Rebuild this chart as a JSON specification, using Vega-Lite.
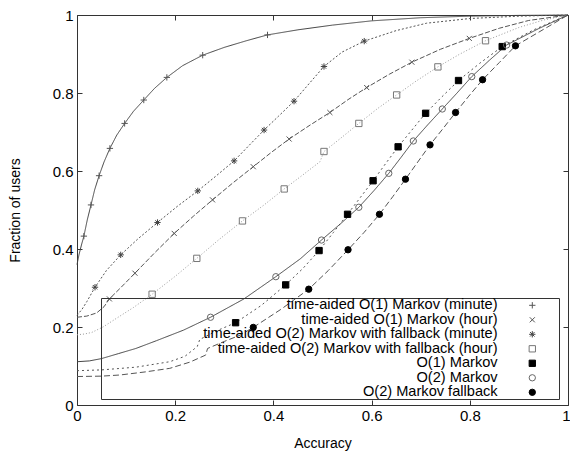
{
 "$schema": "https://vega.github.io/schema/vega-lite/v6.json",
 "width": 491, "height": 390,
 "autosize": {"type": "none"},
 "padding": {"left": 77, "top": 15, "right": 2, "bottom": 46},
 "background": "white",
 "config": {
  "view": {"stroke": "#333", "strokeWidth": 1},
  "font": "Liberation Sans",
  "axis": {"grid": false, "domain": false, "tickColor": "#333", "labelColor": "black", "titleColor": "black", "titleFontWeight": "normal", "labelFont": "Liberation Sans", "titleFont": "Liberation Sans", "labelFontSize": 15, "titleFontSize": 14, "labelFlush": false, "labelBound": false, "labelOverlap": false}
 },
 "datasets": {
  "curves": [
   {"series":"time-aided O(1) Markov (minute)","accuracy":0,"fraction":0.36},
   {"series":"time-aided O(1) Markov (minute)","accuracy":0.004,"fraction":0.385},
   {"series":"time-aided O(1) Markov (minute)","accuracy":0.009,"fraction":0.41},
   {"series":"time-aided O(1) Markov (minute)","accuracy":0.014,"fraction":0.433},
   {"series":"time-aided O(1) Markov (minute)","accuracy":0.021,"fraction":0.475},
   {"series":"time-aided O(1) Markov (minute)","accuracy":0.0285,"fraction":0.513},
   {"series":"time-aided O(1) Markov (minute)","accuracy":0.036,"fraction":0.552},
   {"series":"time-aided O(1) Markov (minute)","accuracy":0.045,"fraction":0.588},
   {"series":"time-aided O(1) Markov (minute)","accuracy":0.055,"fraction":0.623},
   {"series":"time-aided O(1) Markov (minute)","accuracy":0.067,"fraction":0.658},
   {"series":"time-aided O(1) Markov (minute)","accuracy":0.081,"fraction":0.692},
   {"series":"time-aided O(1) Markov (minute)","accuracy":0.097,"fraction":0.722},
   {"series":"time-aided O(1) Markov (minute)","accuracy":0.115,"fraction":0.753},
   {"series":"time-aided O(1) Markov (minute)","accuracy":0.136,"fraction":0.782},
   {"series":"time-aided O(1) Markov (minute)","accuracy":0.158,"fraction":0.812},
   {"series":"time-aided O(1) Markov (minute)","accuracy":0.183,"fraction":0.84},
   {"series":"time-aided O(1) Markov (minute)","accuracy":0.215,"fraction":0.87},
   {"series":"time-aided O(1) Markov (minute)","accuracy":0.256,"fraction":0.897},
   {"series":"time-aided O(1) Markov (minute)","accuracy":0.3,"fraction":0.917},
   {"series":"time-aided O(1) Markov (minute)","accuracy":0.345,"fraction":0.934},
   {"series":"time-aided O(1) Markov (minute)","accuracy":0.388,"fraction":0.949},
   {"series":"time-aided O(1) Markov (minute)","accuracy":0.45,"fraction":0.962},
   {"series":"time-aided O(1) Markov (minute)","accuracy":0.52,"fraction":0.974},
   {"series":"time-aided O(1) Markov (minute)","accuracy":0.6,"fraction":0.985},
   {"series":"time-aided O(1) Markov (minute)","accuracy":0.7,"fraction":0.993},
   {"series":"time-aided O(1) Markov (minute)","accuracy":0.8,"fraction":0.997},
   {"series":"time-aided O(1) Markov (minute)","accuracy":0.9,"fraction":0.999},
   {"series":"time-aided O(1) Markov (minute)","accuracy":1,"fraction":1},

   {"series":"time-aided O(1) Markov (hour)","accuracy":0,"fraction":0.225},
   {"series":"time-aided O(1) Markov (hour)","accuracy":0.02,"fraction":0.228},
   {"series":"time-aided O(1) Markov (hour)","accuracy":0.04,"fraction":0.236},
   {"series":"time-aided O(1) Markov (hour)","accuracy":0.055,"fraction":0.252},
   {"series":"time-aided O(1) Markov (hour)","accuracy":0.066,"fraction":0.272},
   {"series":"time-aided O(1) Markov (hour)","accuracy":0.09,"fraction":0.302},
   {"series":"time-aided O(1) Markov (hour)","accuracy":0.118,"fraction":0.338},
   {"series":"time-aided O(1) Markov (hour)","accuracy":0.158,"fraction":0.39},
   {"series":"time-aided O(1) Markov (hour)","accuracy":0.198,"fraction":0.44},
   {"series":"time-aided O(1) Markov (hour)","accuracy":0.237,"fraction":0.484},
   {"series":"time-aided O(1) Markov (hour)","accuracy":0.276,"fraction":0.526},
   {"series":"time-aided O(1) Markov (hour)","accuracy":0.318,"fraction":0.57},
   {"series":"time-aided O(1) Markov (hour)","accuracy":0.359,"fraction":0.611},
   {"series":"time-aided O(1) Markov (hour)","accuracy":0.396,"fraction":0.648},
   {"series":"time-aided O(1) Markov (hour)","accuracy":0.432,"fraction":0.682},
   {"series":"time-aided O(1) Markov (hour)","accuracy":0.475,"fraction":0.718},
   {"series":"time-aided O(1) Markov (hour)","accuracy":0.515,"fraction":0.75},
   {"series":"time-aided O(1) Markov (hour)","accuracy":0.552,"fraction":0.783},
   {"series":"time-aided O(1) Markov (hour)","accuracy":0.59,"fraction":0.814},
   {"series":"time-aided O(1) Markov (hour)","accuracy":0.636,"fraction":0.848},
   {"series":"time-aided O(1) Markov (hour)","accuracy":0.682,"fraction":0.879},
   {"series":"time-aided O(1) Markov (hour)","accuracy":0.74,"fraction":0.912},
   {"series":"time-aided O(1) Markov (hour)","accuracy":0.799,"fraction":0.94},
   {"series":"time-aided O(1) Markov (hour)","accuracy":0.86,"fraction":0.966},
   {"series":"time-aided O(1) Markov (hour)","accuracy":0.92,"fraction":0.986},
   {"series":"time-aided O(1) Markov (hour)","accuracy":1,"fraction":1},

   {"series":"time-aided O(2) Markov with fallback (minute)","accuracy":0,"fraction":0.23},
   {"series":"time-aided O(2) Markov with fallback (minute)","accuracy":0.01,"fraction":0.245},
   {"series":"time-aided O(2) Markov with fallback (minute)","accuracy":0.02,"fraction":0.265},
   {"series":"time-aided O(2) Markov with fallback (minute)","accuracy":0.0367,"fraction":0.302},
   {"series":"time-aided O(2) Markov with fallback (minute)","accuracy":0.06,"fraction":0.345},
   {"series":"time-aided O(2) Markov with fallback (minute)","accuracy":0.089,"fraction":0.385},
   {"series":"time-aided O(2) Markov with fallback (minute)","accuracy":0.125,"fraction":0.427},
   {"series":"time-aided O(2) Markov with fallback (minute)","accuracy":0.164,"fraction":0.468},
   {"series":"time-aided O(2) Markov with fallback (minute)","accuracy":0.205,"fraction":0.51},
   {"series":"time-aided O(2) Markov with fallback (minute)","accuracy":0.246,"fraction":0.549},
   {"series":"time-aided O(2) Markov with fallback (minute)","accuracy":0.283,"fraction":0.587},
   {"series":"time-aided O(2) Markov with fallback (minute)","accuracy":0.32,"fraction":0.626},
   {"series":"time-aided O(2) Markov with fallback (minute)","accuracy":0.35,"fraction":0.665},
   {"series":"time-aided O(2) Markov with fallback (minute)","accuracy":0.381,"fraction":0.705},
   {"series":"time-aided O(2) Markov with fallback (minute)","accuracy":0.41,"fraction":0.74},
   {"series":"time-aided O(2) Markov with fallback (minute)","accuracy":0.442,"fraction":0.779},
   {"series":"time-aided O(2) Markov with fallback (minute)","accuracy":0.47,"fraction":0.82},
   {"series":"time-aided O(2) Markov with fallback (minute)","accuracy":0.503,"fraction":0.868},
   {"series":"time-aided O(2) Markov with fallback (minute)","accuracy":0.54,"fraction":0.905},
   {"series":"time-aided O(2) Markov with fallback (minute)","accuracy":0.585,"fraction":0.933},
   {"series":"time-aided O(2) Markov with fallback (minute)","accuracy":0.65,"fraction":0.96},
   {"series":"time-aided O(2) Markov with fallback (minute)","accuracy":0.712,"fraction":0.979},
   {"series":"time-aided O(2) Markov with fallback (minute)","accuracy":0.8,"fraction":0.991},
   {"series":"time-aided O(2) Markov with fallback (minute)","accuracy":0.9,"fraction":0.997},
   {"series":"time-aided O(2) Markov with fallback (minute)","accuracy":1,"fraction":1},

   {"series":"time-aided O(2) Markov with fallback (hour)","accuracy":0,"fraction":0.18},
   {"series":"time-aided O(2) Markov with fallback (hour)","accuracy":0.015,"fraction":0.182},
   {"series":"time-aided O(2) Markov with fallback (hour)","accuracy":0.03,"fraction":0.186},
   {"series":"time-aided O(2) Markov with fallback (hour)","accuracy":0.053,"fraction":0.2},
   {"series":"time-aided O(2) Markov with fallback (hour)","accuracy":0.08,"fraction":0.222},
   {"series":"time-aided O(2) Markov with fallback (hour)","accuracy":0.115,"fraction":0.25},
   {"series":"time-aided O(2) Markov with fallback (hour)","accuracy":0.153,"fraction":0.284},
   {"series":"time-aided O(2) Markov with fallback (hour)","accuracy":0.2,"fraction":0.33},
   {"series":"time-aided O(2) Markov with fallback (hour)","accuracy":0.244,"fraction":0.376},
   {"series":"time-aided O(2) Markov with fallback (hour)","accuracy":0.29,"fraction":0.425},
   {"series":"time-aided O(2) Markov with fallback (hour)","accuracy":0.337,"fraction":0.472},
   {"series":"time-aided O(2) Markov with fallback (hour)","accuracy":0.38,"fraction":0.512},
   {"series":"time-aided O(2) Markov with fallback (hour)","accuracy":0.422,"fraction":0.554},
   {"series":"time-aided O(2) Markov with fallback (hour)","accuracy":0.46,"fraction":0.59},
   {"series":"time-aided O(2) Markov with fallback (hour)","accuracy":0.495,"fraction":0.624},
   {"series":"time-aided O(2) Markov with fallback (hour)","accuracy":0.503,"fraction":0.65},
   {"series":"time-aided O(2) Markov with fallback (hour)","accuracy":0.54,"fraction":0.687},
   {"series":"time-aided O(2) Markov with fallback (hour)","accuracy":0.574,"fraction":0.722},
   {"series":"time-aided O(2) Markov with fallback (hour)","accuracy":0.612,"fraction":0.76},
   {"series":"time-aided O(2) Markov with fallback (hour)","accuracy":0.651,"fraction":0.795},
   {"series":"time-aided O(2) Markov with fallback (hour)","accuracy":0.69,"fraction":0.83},
   {"series":"time-aided O(2) Markov with fallback (hour)","accuracy":0.735,"fraction":0.867},
   {"series":"time-aided O(2) Markov with fallback (hour)","accuracy":0.78,"fraction":0.9},
   {"series":"time-aided O(2) Markov with fallback (hour)","accuracy":0.832,"fraction":0.934},
   {"series":"time-aided O(2) Markov with fallback (hour)","accuracy":0.9,"fraction":0.968},
   {"series":"time-aided O(2) Markov with fallback (hour)","accuracy":0.95,"fraction":0.987},
   {"series":"time-aided O(2) Markov with fallback (hour)","accuracy":1,"fraction":1},

   {"series":"O(1) Markov","accuracy":0,"fraction":0.088},
   {"series":"O(1) Markov","accuracy":0.05,"fraction":0.09},
   {"series":"O(1) Markov","accuracy":0.12,"fraction":0.097},
   {"series":"O(1) Markov","accuracy":0.189,"fraction":0.111},
   {"series":"O(1) Markov","accuracy":0.22,"fraction":0.125},
   {"series":"O(1) Markov","accuracy":0.245,"fraction":0.15},
   {"series":"O(1) Markov","accuracy":0.25,"fraction":0.168},
   {"series":"O(1) Markov","accuracy":0.284,"fraction":0.19},
   {"series":"O(1) Markov","accuracy":0.323,"fraction":0.211},
   {"series":"O(1) Markov","accuracy":0.375,"fraction":0.255},
   {"series":"O(1) Markov","accuracy":0.425,"fraction":0.308},
   {"series":"O(1) Markov","accuracy":0.46,"fraction":0.35},
   {"series":"O(1) Markov","accuracy":0.493,"fraction":0.396},
   {"series":"O(1) Markov","accuracy":0.522,"fraction":0.442},
   {"series":"O(1) Markov","accuracy":0.551,"fraction":0.489},
   {"series":"O(1) Markov","accuracy":0.577,"fraction":0.532},
   {"series":"O(1) Markov","accuracy":0.603,"fraction":0.575},
   {"series":"O(1) Markov","accuracy":0.628,"fraction":0.618},
   {"series":"O(1) Markov","accuracy":0.654,"fraction":0.662},
   {"series":"O(1) Markov","accuracy":0.682,"fraction":0.705},
   {"series":"O(1) Markov","accuracy":0.71,"fraction":0.748},
   {"series":"O(1) Markov","accuracy":0.743,"fraction":0.79},
   {"series":"O(1) Markov","accuracy":0.777,"fraction":0.832},
   {"series":"O(1) Markov","accuracy":0.82,"fraction":0.876},
   {"series":"O(1) Markov","accuracy":0.866,"fraction":0.919},
   {"series":"O(1) Markov","accuracy":0.93,"fraction":0.962},
   {"series":"O(1) Markov","accuracy":1,"fraction":1},

   {"series":"O(2) Markov","accuracy":0,"fraction":0.111},
   {"series":"O(2) Markov","accuracy":0.025,"fraction":0.113},
   {"series":"O(2) Markov","accuracy":0.05,"fraction":0.119},
   {"series":"O(2) Markov","accuracy":0.085,"fraction":0.132},
   {"series":"O(2) Markov","accuracy":0.12,"fraction":0.145},
   {"series":"O(2) Markov","accuracy":0.162,"fraction":0.165},
   {"series":"O(2) Markov","accuracy":0.217,"fraction":0.192},
   {"series":"O(2) Markov","accuracy":0.272,"fraction":0.225},
   {"series":"O(2) Markov","accuracy":0.34,"fraction":0.272},
   {"series":"O(2) Markov","accuracy":0.405,"fraction":0.329},
   {"series":"O(2) Markov","accuracy":0.455,"fraction":0.375},
   {"series":"O(2) Markov","accuracy":0.498,"fraction":0.423},
   {"series":"O(2) Markov","accuracy":0.537,"fraction":0.465},
   {"series":"O(2) Markov","accuracy":0.574,"fraction":0.507},
   {"series":"O(2) Markov","accuracy":0.605,"fraction":0.55},
   {"series":"O(2) Markov","accuracy":0.635,"fraction":0.594},
   {"series":"O(2) Markov","accuracy":0.66,"fraction":0.635},
   {"series":"O(2) Markov","accuracy":0.685,"fraction":0.677},
   {"series":"O(2) Markov","accuracy":0.714,"fraction":0.718},
   {"series":"O(2) Markov","accuracy":0.744,"fraction":0.759},
   {"series":"O(2) Markov","accuracy":0.774,"fraction":0.8},
   {"series":"O(2) Markov","accuracy":0.804,"fraction":0.842},
   {"series":"O(2) Markov","accuracy":0.84,"fraction":0.884},
   {"series":"O(2) Markov","accuracy":0.875,"fraction":0.923},
   {"series":"O(2) Markov","accuracy":0.94,"fraction":0.965},
   {"series":"O(2) Markov","accuracy":1,"fraction":1},

   {"series":"O(2) Markov fallback","accuracy":0,"fraction":0.073},
   {"series":"O(2) Markov fallback","accuracy":0.05,"fraction":0.074},
   {"series":"O(2) Markov fallback","accuracy":0.088,"fraction":0.077},
   {"series":"O(2) Markov fallback","accuracy":0.14,"fraction":0.085},
   {"series":"O(2) Markov fallback","accuracy":0.189,"fraction":0.094},
   {"series":"O(2) Markov fallback","accuracy":0.23,"fraction":0.11},
   {"series":"O(2) Markov fallback","accuracy":0.262,"fraction":0.128},
   {"series":"O(2) Markov fallback","accuracy":0.266,"fraction":0.145},
   {"series":"O(2) Markov fallback","accuracy":0.3,"fraction":0.163},
   {"series":"O(2) Markov fallback","accuracy":0.332,"fraction":0.179},
   {"series":"O(2) Markov fallback","accuracy":0.359,"fraction":0.199},
   {"series":"O(2) Markov fallback","accuracy":0.415,"fraction":0.245},
   {"series":"O(2) Markov fallback","accuracy":0.472,"fraction":0.297},
   {"series":"O(2) Markov fallback","accuracy":0.512,"fraction":0.345},
   {"series":"O(2) Markov fallback","accuracy":0.552,"fraction":0.398},
   {"series":"O(2) Markov fallback","accuracy":0.585,"fraction":0.443},
   {"series":"O(2) Markov fallback","accuracy":0.616,"fraction":0.489},
   {"series":"O(2) Markov fallback","accuracy":0.643,"fraction":0.534},
   {"series":"O(2) Markov fallback","accuracy":0.669,"fraction":0.579},
   {"series":"O(2) Markov fallback","accuracy":0.694,"fraction":0.623},
   {"series":"O(2) Markov fallback","accuracy":0.719,"fraction":0.667},
   {"series":"O(2) Markov fallback","accuracy":0.745,"fraction":0.708},
   {"series":"O(2) Markov fallback","accuracy":0.771,"fraction":0.75},
   {"series":"O(2) Markov fallback","accuracy":0.798,"fraction":0.792},
   {"series":"O(2) Markov fallback","accuracy":0.826,"fraction":0.834},
   {"series":"O(2) Markov fallback","accuracy":0.86,"fraction":0.878},
   {"series":"O(2) Markov fallback","accuracy":0.893,"fraction":0.921},
   {"series":"O(2) Markov fallback","accuracy":0.95,"fraction":0.963},
   {"series":"O(2) Markov fallback","accuracy":1,"fraction":1}
  ],
  "markers": [
   {"series":"time-aided O(1) Markov (minute)","accuracy":0.014,"fraction":0.433},
   {"series":"time-aided O(1) Markov (minute)","accuracy":0.0285,"fraction":0.513},
   {"series":"time-aided O(1) Markov (minute)","accuracy":0.045,"fraction":0.588},
   {"series":"time-aided O(1) Markov (minute)","accuracy":0.067,"fraction":0.658},
   {"series":"time-aided O(1) Markov (minute)","accuracy":0.097,"fraction":0.722},
   {"series":"time-aided O(1) Markov (minute)","accuracy":0.136,"fraction":0.782},
   {"series":"time-aided O(1) Markov (minute)","accuracy":0.183,"fraction":0.84},
   {"series":"time-aided O(1) Markov (minute)","accuracy":0.256,"fraction":0.897},
   {"series":"time-aided O(1) Markov (minute)","accuracy":0.388,"fraction":0.949},
   {"series":"time-aided O(1) Markov (hour)","accuracy":0.066,"fraction":0.272},
   {"series":"time-aided O(1) Markov (hour)","accuracy":0.118,"fraction":0.338},
   {"series":"time-aided O(1) Markov (hour)","accuracy":0.198,"fraction":0.44},
   {"series":"time-aided O(1) Markov (hour)","accuracy":0.276,"fraction":0.526},
   {"series":"time-aided O(1) Markov (hour)","accuracy":0.359,"fraction":0.611},
   {"series":"time-aided O(1) Markov (hour)","accuracy":0.432,"fraction":0.682},
   {"series":"time-aided O(1) Markov (hour)","accuracy":0.515,"fraction":0.75},
   {"series":"time-aided O(1) Markov (hour)","accuracy":0.59,"fraction":0.814},
   {"series":"time-aided O(1) Markov (hour)","accuracy":0.682,"fraction":0.879},
   {"series":"time-aided O(1) Markov (hour)","accuracy":0.799,"fraction":0.94},
   {"series":"time-aided O(2) Markov with fallback (minute)","accuracy":0.0367,"fraction":0.302},
   {"series":"time-aided O(2) Markov with fallback (minute)","accuracy":0.089,"fraction":0.385},
   {"series":"time-aided O(2) Markov with fallback (minute)","accuracy":0.164,"fraction":0.468},
   {"series":"time-aided O(2) Markov with fallback (minute)","accuracy":0.246,"fraction":0.549},
   {"series":"time-aided O(2) Markov with fallback (minute)","accuracy":0.32,"fraction":0.626},
   {"series":"time-aided O(2) Markov with fallback (minute)","accuracy":0.381,"fraction":0.705},
   {"series":"time-aided O(2) Markov with fallback (minute)","accuracy":0.442,"fraction":0.779},
   {"series":"time-aided O(2) Markov with fallback (minute)","accuracy":0.503,"fraction":0.868},
   {"series":"time-aided O(2) Markov with fallback (minute)","accuracy":0.585,"fraction":0.933},
   {"series":"time-aided O(2) Markov with fallback (hour)","accuracy":0.153,"fraction":0.284},
   {"series":"time-aided O(2) Markov with fallback (hour)","accuracy":0.244,"fraction":0.376},
   {"series":"time-aided O(2) Markov with fallback (hour)","accuracy":0.337,"fraction":0.472},
   {"series":"time-aided O(2) Markov with fallback (hour)","accuracy":0.422,"fraction":0.554},
   {"series":"time-aided O(2) Markov with fallback (hour)","accuracy":0.503,"fraction":0.65},
   {"series":"time-aided O(2) Markov with fallback (hour)","accuracy":0.574,"fraction":0.722},
   {"series":"time-aided O(2) Markov with fallback (hour)","accuracy":0.651,"fraction":0.795},
   {"series":"time-aided O(2) Markov with fallback (hour)","accuracy":0.735,"fraction":0.867},
   {"series":"time-aided O(2) Markov with fallback (hour)","accuracy":0.832,"fraction":0.934},
   {"series":"O(1) Markov","accuracy":0.323,"fraction":0.211},
   {"series":"O(1) Markov","accuracy":0.425,"fraction":0.308},
   {"series":"O(1) Markov","accuracy":0.493,"fraction":0.396},
   {"series":"O(1) Markov","accuracy":0.551,"fraction":0.489},
   {"series":"O(1) Markov","accuracy":0.603,"fraction":0.575},
   {"series":"O(1) Markov","accuracy":0.654,"fraction":0.662},
   {"series":"O(1) Markov","accuracy":0.71,"fraction":0.748},
   {"series":"O(1) Markov","accuracy":0.777,"fraction":0.832},
   {"series":"O(1) Markov","accuracy":0.866,"fraction":0.919},
   {"series":"O(2) Markov","accuracy":0.272,"fraction":0.225},
   {"series":"O(2) Markov","accuracy":0.405,"fraction":0.329},
   {"series":"O(2) Markov","accuracy":0.498,"fraction":0.423},
   {"series":"O(2) Markov","accuracy":0.574,"fraction":0.507},
   {"series":"O(2) Markov","accuracy":0.635,"fraction":0.594},
   {"series":"O(2) Markov","accuracy":0.685,"fraction":0.677},
   {"series":"O(2) Markov","accuracy":0.744,"fraction":0.759},
   {"series":"O(2) Markov","accuracy":0.804,"fraction":0.842},
   {"series":"O(2) Markov","accuracy":0.875,"fraction":0.923},
   {"series":"O(2) Markov fallback","accuracy":0.359,"fraction":0.199},
   {"series":"O(2) Markov fallback","accuracy":0.472,"fraction":0.297},
   {"series":"O(2) Markov fallback","accuracy":0.552,"fraction":0.398},
   {"series":"O(2) Markov fallback","accuracy":0.616,"fraction":0.489},
   {"series":"O(2) Markov fallback","accuracy":0.669,"fraction":0.579},
   {"series":"O(2) Markov fallback","accuracy":0.719,"fraction":0.667},
   {"series":"O(2) Markov fallback","accuracy":0.771,"fraction":0.75},
   {"series":"O(2) Markov fallback","accuracy":0.826,"fraction":0.834},
   {"series":"O(2) Markov fallback","accuracy":0.893,"fraction":0.921}
  ]
 },
 "layer": [
  {
   "data": {"name": "curves"},
   "mark": {"type": "line", "strokeWidth": 1},
   "encoding": {
    "x": {"field": "accuracy", "type": "quantitative", "scale": {"domain": [0, 1], "nice": false, "zero": false},
          "axis": {"orient": "bottom", "values": [0, 0.2, 0.4, 0.6, 0.8, 1], "format": "~g", "tickSize": -5, "labelPadding": 8, "title": "Accuracy", "titlePadding": 13,
                   "labelAlign": {"condition": {"test": "datum.value >= 1", "value": "right"}, "value": "center"},
                   "labelOffset": {"condition": {"test": "datum.value >= 1", "value": 2}, "value": 0}}},
    "y": {"field": "fraction", "type": "quantitative", "scale": {"domain": [0, 1], "nice": false, "zero": false},
          "axis": {"orient": "left", "values": [0, 0.2, 0.4, 0.6, 0.8, 1], "format": "~g", "tickSize": -5, "labelPadding": 9, "title": "Fraction of users", "titlePadding": 30}},
    "color": {"field": "series", "type": "nominal", "legend": null,
              "scale": {"domain": ["O(2) Markov fallback", "O(2) Markov", "O(1) Markov", "time-aided O(2) Markov with fallback (hour)", "time-aided O(2) Markov with fallback (minute)", "time-aided O(1) Markov (hour)", "time-aided O(1) Markov (minute)"],
                        "range": ["#555555", "#444444", "#555555", "#999999", "#555555", "#555555", "#444444"]}},
    "strokeDash": {"field": "series", "type": "nominal", "legend": null,
              "scale": {"domain": ["O(2) Markov fallback", "O(2) Markov", "O(1) Markov", "time-aided O(2) Markov with fallback (hour)", "time-aided O(2) Markov with fallback (minute)", "time-aided O(1) Markov (hour)", "time-aided O(1) Markov (minute)"],
                        "range": [[6, 3], [1, 0], [2, 3], [1, 2], [2, 2], [5, 2], [1, 0]]}}
   }
  },
  {
   "data": {"name": "markers"},
   "mark": {"type": "point", "opacity": 1, "strokeWidth": 1, "size": 40},
   "encoding": {
    "x": {"field": "accuracy", "type": "quantitative", "axis": {"orient": "top", "values": [0, 0.2, 0.4, 0.6, 0.8, 1], "tickSize": -5, "labels": false, "title": null}},
    "y": {"field": "fraction", "type": "quantitative", "axis": {"orient": "right", "values": [0, 0.2, 0.4, 0.6, 0.8, 1], "tickSize": -5, "labels": false, "title": null}},
    "shape": {"field": "series", "type": "nominal", "title": " ",
              "scale": {"domain": ["time-aided O(1) Markov (minute)", "time-aided O(1) Markov (hour)", "time-aided O(2) Markov with fallback (minute)", "time-aided O(2) Markov with fallback (hour)", "O(1) Markov", "O(2) Markov", "O(2) Markov fallback"],
                        "range": ["M-1,0L1,0M0,-1L0,1", "M-0.8,-0.8L0.8,0.8M-0.8,0.8L0.8,-0.8", "M-1,0L1,0M0,-1L0,1M-0.7,-0.7L0.7,0.7M-0.7,0.7L0.7,-0.7", "square", "square", "circle", "circle"]},
              "legend": {"orient": "none", "legendX": 24, "legendY": 283, "strokeColor": "#333", "padding": 0, "titleOrient": "right", "titlePadding": 22, "titleFontSize": 14, "labelFont": "Liberation Sans", "labelFontSize": 14.6, "labelColor": "black", "labelAlign": "right", "labelLimit": 600, "symbolOffset": 424, "labelOffset": -42, "rowPadding": -0.5, "symbolSize": 40, "symbolStrokeWidth": 1}},
    "fill": {"field": "series", "type": "nominal", "title": " ",
              "scale": {"domain": ["time-aided O(1) Markov (minute)", "time-aided O(1) Markov (hour)", "time-aided O(2) Markov with fallback (minute)", "time-aided O(2) Markov with fallback (hour)", "O(1) Markov", "O(2) Markov", "O(2) Markov fallback"],
                        "range": ["transparent", "transparent", "transparent", "transparent", "black", "transparent", "black"]}},
    "stroke": {"field": "series", "type": "nominal", "title": " ",
              "scale": {"domain": ["time-aided O(1) Markov (minute)", "time-aided O(1) Markov (hour)", "time-aided O(2) Markov with fallback (minute)", "time-aided O(2) Markov with fallback (hour)", "O(1) Markov", "O(2) Markov", "O(2) Markov fallback"],
                        "range": ["#555555", "#555555", "#444444", "#777777", "black", "#666666", "black"]}}
   }
  }
 ],
 "resolve": {"axis": {"x": "independent", "y": "independent"}}
}
